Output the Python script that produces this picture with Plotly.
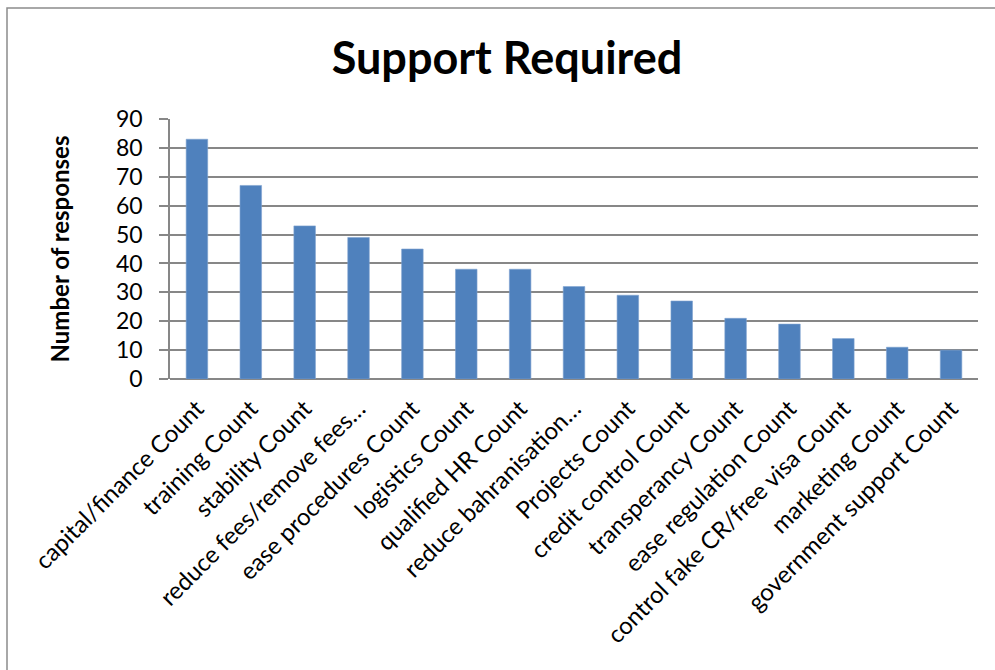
import plotly.graph_objects as go

categories = [
    "capital/finance Count", "training Count", "stability Count",
    "reduce fees/remove fees…", "ease procedures Count", "logistics Count",
    "qualified HR Count", "reduce bahranisation…", "Projects Count",
    "credit control Count", "transperancy Count", "ease regulation Count",
    "control fake CR/free visa Count", "marketing Count", "government support Count",
]
values = [83, 67, 53, 49, 45, 38, 38, 32, 29, 27, 21, 19, 14, 11, 10]
y_ticks = [0, 10, 20, 30, 40, 50, 60, 70, 80, 90]

W, H = 995, 670
L, R, T, B = 170, 17, 119, 291
pw, ph = W - L - R, H - T - B

def px_x(x):
    return (x - L) / pw

def px_y(y):
    return (H - B - y) / ph

FONT = "Lato, Carlito, Calibri, sans-serif"
GRID = "#878787"

fig = go.Figure(go.Bar(
    x=categories, y=values,
    marker=dict(color="#4F81BD", line=dict(color="#7FA3D0", width=0.6)),
    width=0.4,
))

fig.update_layout(
    width=W, height=H,
    margin=dict(l=L, r=R, t=T, b=B),
    paper_bgcolor="white", plot_bgcolor="white",
    showlegend=False,
    font=dict(family=FONT, color="black"),
    title=dict(text="<b>Support Required</b>", x=px_x(507), xref="paper", xanchor="center",
               y=1 - 58 / H, yanchor="middle", font=dict(size=45, family=FONT, color="black")),
    xaxis=dict(
        tickangle=-45, tickfont=dict(size=24, family=FONT, color="black"),
        showgrid=False, showline=False, ticks="", zeroline=False,
        ticklabelstandoff=10,
        range=[-0.5, len(categories) - 0.5],
    ),
    yaxis=dict(
        range=[0, 90], tickvals=y_ticks, ticktext=[str(v) for v in y_ticks],
        tickfont=dict(size=23, family=FONT, color="black"),
        showgrid=True, gridcolor=GRID, gridwidth=1.5,
        showline=True, linecolor=GRID, linewidth=1.5,
        ticks="outside", ticklen=9, tickcolor=GRID, tickwidth=1.5,
        ticklabelstandoff=12,
        zeroline=True, zerolinecolor=GRID, zerolinewidth=1.5,
        title=dict(text="<b>Number of responses</b>", font=dict(size=24, family=FONT, color="black"),
                   standoff=40),
    ),
    shapes=[dict(type="rect", xref="paper", yref="paper",
                 x0=px_x(7), x1=px_x(1010), y0=px_y(690), y1=px_y(8),
                 line=dict(color="#8C8C8C", width=1.5), fillcolor="rgba(0,0,0,0)", layer="below")],
)

fig.write_html("out.html")
